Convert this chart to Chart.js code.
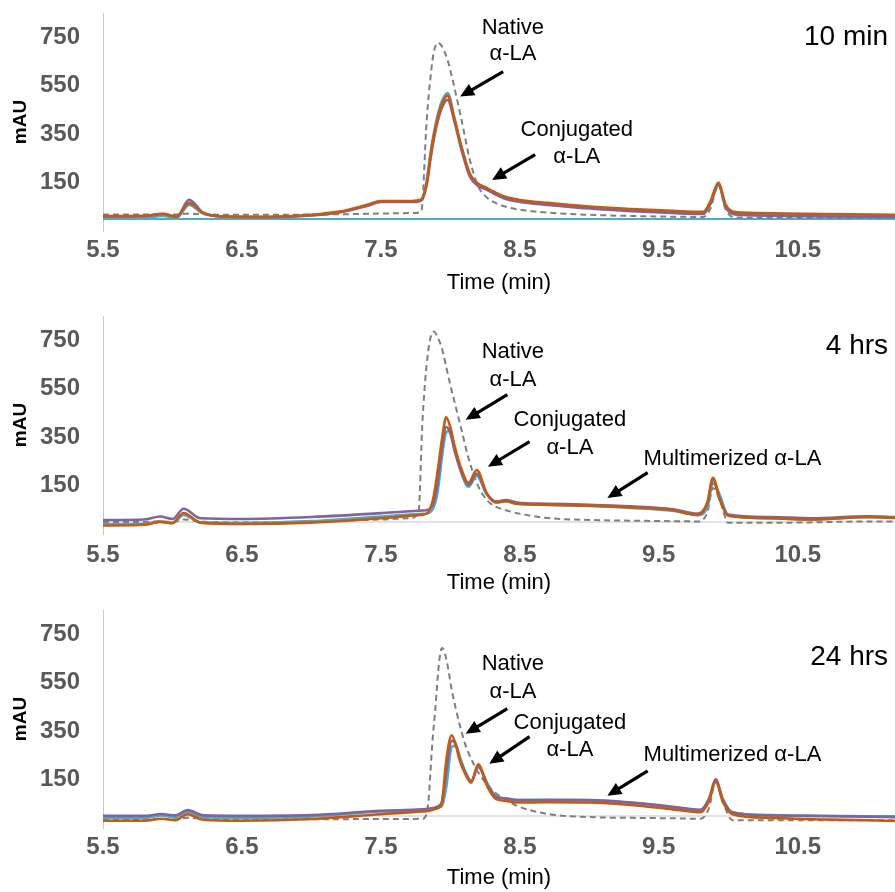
<!DOCTYPE html>
<html>
<head>
<meta charset="utf-8">
<script src="https://cdn.jsdelivr.net/npm/chart.js@4.4.1/dist/chart.umd.min.js"></script>
<style>
  body { margin: 0; background: #ffffff; }
  canvas { display: block; }
</style>
</head>
<body>
<canvas id="chart10min" width="895" height="300"></canvas>
<canvas id="chart4hrs" width="895" height="300"></canvas>
<canvas id="chart24hrs" width="895" height="292"></canvas>
<script>
// axis ticks
var xTicks = [5.5, 6.5, 7.5, 8.5, 9.5, 10.5];
var yTicks = [150, 350, 550, 750];

// zero line (axis at 0 mAU)
var zeroTime = [5.5, 11.2];
var zeroLevel = [0, 0];

// ---- 10 min ----
var time10 = [5.5, 5.8, 5.93, 6.03, 6.12, 6.22, 6.4, 6.7, 7.0, 7.2, 7.4, 7.5, 7.72, 7.79, 7.83, 7.86, 7.88, 7.91, 7.94, 7.98,
    8.03, 8.08, 8.14, 8.2, 8.25, 8.31, 8.4, 8.5, 8.7, 9.0, 9.3, 9.6, 9.82, 9.87, 9.93, 9.98, 10.05, 10.3, 10.7, 11.2];
var native10 = [18, 18, 19, 18, 22, 19, 17, 17, 18, 19, 21, 22, 24, 30, 410, 600, 686, 727, 712, 655,
    540, 410, 244, 135, 95, 70, 50, 38, 26, 17, 12, 9, 8, 40, 140, 40, 6, 5, 5, 5];
var orange10 = [12, 13, 21, 10, 66, 25, 10, 9, 17, 30, 58, 74, 74, 80, 150, 272, 340, 420, 475, 509,
    410, 295, 185, 145, 131, 113, 90, 78, 66, 51, 41, 33, 29, 70, 150, 60, 28, 23, 20, 17];
var purple10 = [10, 11, 20, 9, 79, 26, 9, 7, 14, 26, 53, 70, 70, 76, 140, 258, 325, 405, 460, 492,
    400, 285, 175, 136, 124, 105, 82, 70, 58, 43, 32, 24, 20, 60, 140, 50, 18, 13, 10, 8];
var teal10 = [3, 4, 12, 4, 58, 22, 8, 8, 15, 28, 56, 72, 72, 78, 160, 285, 350, 432, 488, 520,
    415, 298, 186, 144, 128, 110, 87, 75, 62, 47, 36, 28, 24, 65, 145, 55, 20, 15, 12, 10];

// ---- 4 hrs ----
var time4h = [5.5, 5.8, 5.91, 6.0, 6.08, 6.2, 6.5, 7.0, 7.5, 7.7, 7.77, 7.8, 7.84, 7.88, 7.91, 7.94, 7.97, 8.0, 8.03, 8.08,
    8.13, 8.19, 8.26, 8.33, 8.4, 8.48, 8.7, 9.0, 9.3, 9.6, 9.78, 9.85, 9.89, 9.94, 10.0, 10.3, 10.6, 11.0, 11.2];
var native4h = [0, 0, 2, 0, 10, 2, -2, 2, 10, 15, 36, 425, 703, 786, 760, 715, 640, 564, 495, 380,
    265, 161, 92, 62, 48, 36, 16, 8, 5, 3, 2, 40, 140, 90, -4, -4, -2, 2, 2];
var orange4h = [-15, -12, 1, -5, 37, -3, -9, -3, 15, 25, 28, 30, 40, 105, 215, 342, 432, 390, 314, 217,
    161, 214, 120, 80, 86, 75, 71, 67, 60, 48, 29, 80, 182, 90, 25, 15, 10, 20, 17];
var purple4h = [8, 10, 22, 12, 54, 15, 12, 20, 36, 44, 46, 47, 50, 80, 170, 310, 392, 365, 295, 205,
    152, 200, 118, 84, 90, 80, 75, 71, 64, 52, 34, 80, 178, 92, 30, 20, 15, 23, 20];
var teal4h = [-10, -8, 0, -5, 29, -2, -5, 3, 22, 30, 32, 33, 36, 60, 130, 270, 370, 376, 300, 200,
    145, 190, 115, 80, 84, 74, 70, 66, 58, 46, 28, 60, 160, 110, 25, 15, 10, 19, 16];

// ---- 24 hrs ----
var time24h = [5.5, 5.8, 5.92, 6.02, 6.11, 6.22, 6.5, 7.0, 7.5, 7.8, 7.84, 7.87, 7.89, 7.92, 7.94, 7.97, 8.01, 8.04, 8.07, 8.11,
    8.15, 8.2, 8.27, 8.33, 8.4, 8.48, 8.7, 9.0, 9.3, 9.6, 9.8, 9.86, 9.91, 9.96, 10.03, 10.3, 10.6, 11.0, 11.2];
var native24h = [-14, -14, -12, -14, -8, -12, -14, -14, -13, -12, 49, 300, 432, 640, 693, 650, 520, 440, 370, 290,
    235, 180, 125, 92, 65, 41, 8, -5, -8, -10, -12, 30, 140, 60, -18, -18, -18, -18, -18];
var orange24h = [-20, -20, -12, -18, 7, -16, -20, -13, 7, 18, 20, 24, 28, 35, 55, 226, 333, 290, 226, 170,
    137, 213, 117, 69, 62, 55, 56, 55, 45, 27, 15, 60, 144, 60, 7, -8, -14, -18, -21];
var purple24h = [0, 0, 8, 2, 24, 2, 0, 3, 21, 27, 30, 32, 35, 42, 60, 180, 310, 295, 230, 175,
    142, 205, 125, 78, 72, 64, 65, 65, 55, 38, 25, 70, 152, 70, 15, 2, 0, -3, -5];
var teal24h = [-8, -8, 2, -6, 16, -5, -8, -2, 18, 25, 27, 29, 31, 36, 42, 117, 285, 290, 240, 180,
    145, 200, 130, 80, 72, 66, 66, 64, 54, 36, 24, 60, 145, 70, 14, 3, 0, -2, -2];

// annotation text [text, time, mAU] and arrows [fromTime, fromMAU, toTime, toMAU]
var labels10 = [["Native", 8.45, 790], ["α-LA", 8.45, 679], ["Conjugated", 8.91, 368], ["α-LA", 8.91, 257]];
var arrows10 = [[8.38, 608, 8.07, 505], [8.61, 265, 8.30, 161]];
var labels4h = [["Native", 8.45, 703], ["α-LA", 8.45, 588], ["Conjugated", 8.86, 422], ["α-LA", 8.86, 306],
    ["Multimerized α-LA", 10.03, 261]];
var arrows4h = [[8.41, 525, 8.11, 422], [8.57, 331, 8.27, 228], [9.42, 203, 9.13, 99]];
var labels24h = [["Native", 8.45, 629], ["α-LA", 8.45, 513], ["Conjugated", 8.86, 385], ["α-LA", 8.86, 273],
    ["Multimerized α-LA", 10.03, 252]];
var arrows24h = [[8.41, 443, 8.11, 339], [8.57, 327, 8.28, 215], [9.42, 186, 9.13, 83]];

var fontFamily = "'Liberation Sans', Arial, sans-serif";

function toPoints(times, values) {
    return times.map(function(t, i) {
        return { x: t, y: values[i] };
    });
}

function lineSet(label, times, values, color, width, dash) {
    return {
        label: label,
        data: toPoints(times, values),
        borderColor: color,
        borderWidth: width,
        borderDash: dash || [],
        pointRadius: 0,
        fill: false,
        cubicInterpolationMode: 'monotone'
    };
}

// no extra label padding around the plot, the axes are sized by hand
function noPad(s) {
    s.paddingTop = 0;
    s.paddingBottom = 0;
    s.paddingLeft = 0;
    s.paddingRight = 0;
}

// draws the notes, arrows and panel title on top of the lines
function notesPlugin(labels, arrows, panelTitle, titleValue) {
    return {
        id: 'notes',
        afterDatasetsDraw: function(chart) {
            var ctx = chart.ctx;
            var xs = chart.scales.x;
            var ys = chart.scales.y;
            ctx.save();
            ctx.fillStyle = '#000000';
            ctx.strokeStyle = '#000000';
            ctx.textBaseline = 'middle';
            ctx.textAlign = 'center';
            ctx.font = "22px " + fontFamily;
            labels.forEach(function(l) {
                ctx.fillText(l[0], xs.getPixelForValue(l[1]), ys.getPixelForValue(l[2]));
            });
            arrows.forEach(function(a) {
                var x0 = xs.getPixelForValue(a[0]), y0 = ys.getPixelForValue(a[1]);
                var x1 = xs.getPixelForValue(a[2]), y1 = ys.getPixelForValue(a[3]);
                var ang = Math.atan2(y1 - y0, x1 - x0);
                var head = 14, half = 6.5;
                var bx = x1 - head * Math.cos(ang), by = y1 - head * Math.sin(ang);
                ctx.lineWidth = 3.2;
                ctx.beginPath();
                ctx.moveTo(x0, y0);
                ctx.lineTo(bx + 2 * Math.cos(ang), by + 2 * Math.sin(ang));
                ctx.stroke();
                ctx.beginPath();
                ctx.moveTo(x1, y1);
                ctx.lineTo(bx + half * Math.sin(ang), by - half * Math.cos(ang));
                ctx.lineTo(bx - half * Math.sin(ang), by + half * Math.cos(ang));
                ctx.closePath();
                ctx.fill();
            });
            ctx.textAlign = 'right';
            ctx.font = "28px " + fontFamily;
            ctx.fillText(panelTitle, xs.getPixelForValue(11.15), ys.getPixelForValue(titleValue));
            ctx.restore();
        }
    };
}

function makeChart(id, p) {
    return new Chart(document.getElementById(id), {
        type: 'line',
        data: {
            datasets: [
                lineSet('Orange', p.time, p.orange, '#c55a11', 2.6),
                lineSet('Purple', p.time, p.purple, '#8064a2', 2.6),
                lineSet('Teal', p.time, p.teal, '#4bacc6', 2.6),
                lineSet('Native', p.time, p.native, '#7f7f7f', 2, [6, 4]),
                lineSet('Zero', zeroTime, zeroLevel, p.zeroColor, p.zeroWidth)
            ]
        },
        options: {
            responsive: false,
            maintainAspectRatio: false,
            devicePixelRatio: 1,
            animation: false,
            layout: { padding: { top: p.top, left: 0, right: 0, bottom: 0 } },
            plugins: {
                legend: { display: false },
                tooltip: { enabled: false }
            },
            scales: {
                x: {
                    type: 'linear',
                    min: 5.5,
                    max: 11.2,
                    afterBuildTicks: function(s) {
                        s.ticks = xTicks.map(function(v) { return { value: v }; });
                    },
                    afterFit: function(s) {
                        s.height = p.axisHeight;
                        noPad(s);
                    },
                    grid: { display: false, drawTicks: false },
                    border: { display: false },
                    ticks: {
                        padding: p.tickPad,
                        color: '#595959',
                        maxRotation: 0,
                        autoSkip: false,
                        font: { family: fontFamily, size: 24, weight: 'bold' },
                        callback: function(v) { return v.toFixed(1); }
                    },
                    title: {
                        display: true,
                        text: 'Time (min)',
                        color: '#000000',
                        font: { family: fontFamily, size: 22 },
                        padding: { top: 0, bottom: p.titlePad }
                    }
                },
                y: {
                    min: -50,
                    max: 850,
                    afterBuildTicks: function(s) {
                        s.ticks = yTicks.map(function(v) { return { value: v }; });
                    },
                    afterFit: function(s) {
                        s.width = 103;
                        noPad(s);
                    },
                    grid: { display: false, drawTicks: false },
                    border: { display: true, color: '#c8c8c8', width: 1 },
                    ticks: {
                        padding: 23,
                        color: '#595959',
                        font: { family: fontFamily, size: 24, weight: 'bold' }
                    },
                    title: {
                        display: true,
                        text: 'mAU',
                        color: '#000000',
                        font: { family: fontFamily, size: 19, weight: 'bold' },
                        padding: { top: 9, bottom: 0 }
                    }
                }
            }
        },
        plugins: [notesPlugin(p.labels, p.arrows, p.title, p.titleValue)]
    });
}

var chart10 = makeChart('chart10min', {
    time: time10, native: native10, orange: orange10, purple: purple10, teal: teal10,
    labels: labels10, arrows: arrows10, title: '10 min', titleValue: 749,
    top: 13, axisHeight: 69, tickPad: 5, titlePad: 4, zeroColor: '#4bacc6', zeroWidth: 2
});
var chart4 = makeChart('chart4hrs', {
    time: time4h, native: native4h, orange: orange4h, purple: purple4h, teal: teal4h,
    labels: labels4h, arrows: arrows4h, title: '4 hrs', titleValue: 724,
    top: 16, axisHeight: 66, tickPad: 7, titlePad: 4, zeroColor: '#d9d9d9', zeroWidth: 1.5
});
var chart24 = makeChart('chart24hrs', {
    time: time24h, native: native24h, orange: orange24h, purple: purple24h, teal: teal24h,
    labels: labels24h, arrows: arrows24h, title: '24 hrs', titleValue: 654,
    top: 10, axisHeight: 64, tickPad: 5, titlePad: 1, zeroColor: '#d9d9d9', zeroWidth: 1.5
});
</script>
</body>
</html>
